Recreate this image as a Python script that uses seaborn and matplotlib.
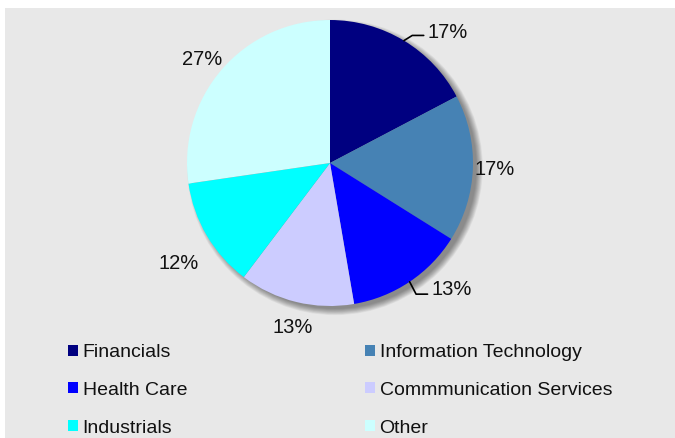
import numpy as np
import matplotlib
matplotlib.use("Agg")
import matplotlib.pyplot as plt
from matplotlib.patches import Patch, Circle, Rectangle
import seaborn as sns

sectors = ["Financials", "Information Technology", "Health Care",
           "Commmunication Services", "Industrials", "Other"]
weights = [17.3, 16.6, 13.4, 13.0, 12.4, 27.3]
colors = ["#000080", "#4682B4", "#0000FF", "#CCCCFF", "#00FFFF", "#CCFFFF"]

sns.set_theme(style="white")
plt.rcParams["font.family"] = ["Liberation Sans", "DejaVu Sans"]

W, H = 675, 438
fig = plt.figure(figsize=(W / 100, H / 100), dpi=100)
fig.patch.set_facecolor("white")
# grey panel behind everything
fig.patches.append(Rectangle((5 / W, 0), 1, (H - 8) / H, transform=fig.transFigure,
                             facecolor="#e8e8e8", edgecolor="none", zorder=-5))

# pie centre (330,163) px, radius 143 px; axes spans +-1.5 radius
cx, cy, R = 330, 163, 143
half = 1.5 * R
ax = fig.add_axes([(cx - half) / W, (H - cy - half) / H, 2 * half / W, 2 * half / H])
ax.patch.set_alpha(0)

# soft shadow, bottom-right
for i in range(12):
    ax.add_patch(Circle((0.035, -0.03), 0.99 + 0.004 * i, color="black",
                        alpha=0.04, lw=0, zorder=1))

wedges, _ = ax.pie(weights, colors=colors, startangle=90, counterclock=False,
                   radius=1.0, wedgeprops=dict(linewidth=0))
for w in wedges:
    w.set_zorder(2)
ax.set_xlim(-1.5, 1.5)
ax.set_ylim(-1.5, 1.5)
ax.axis("off")

total = sum(weights)
label_r = [1.23, 1.15, 1.23, 1.18, 1.27, 1.15]
label_shift = [-11, 0, 10, 1, 3, 2]   # degrees, labels pulled aside where a leader is used
for i, (w, v) in enumerate(zip(wedges, weights)):
    mid_deg = (w.theta1 + w.theta2) / 2
    mid = np.deg2rad(mid_deg)
    pos = np.deg2rad(mid_deg + label_shift[i])
    lx, ly = label_r[i] * np.cos(pos), label_r[i] * np.sin(pos)
    ax.text(lx, ly, f"{v / total * 100:.0f}%", ha="center", va="center",
            fontsize=14.5, color="#111111", zorder=3)
    if i == 0:
        ax.plot([np.cos(mid), lx - 0.25, lx - 0.17], [np.sin(mid), ly - 0.02, ly - 0.02],
                color="black", lw=1.2, zorder=3)
    if i == 2:
        ax.plot([np.cos(mid), lx - 0.25, lx - 0.17], [np.sin(mid), ly - 0.03, ly - 0.03],
                color="black", lw=1.2, zorder=3)

handles = [Patch(facecolor=c, edgecolor="none", label=s) for c, s in zip(colors, sectors)]
common = dict(loc="upper left", frameon=False, fontsize=14, handlelength=0.5,
              handleheight=0.5, handletextpad=0.25, labelspacing=1.07,
              borderpad=0, borderaxespad=0, labelcolor="#111111")
fig.legend(handles=handles[0::2], bbox_to_anchor=(68 / W, 1 - 344 / H), **common)
fig.legend(handles=handles[1::2], bbox_to_anchor=(365 / W, 1 - 344 / H), **common)

fig.savefig("out.png", dpi=100, facecolor="white")
